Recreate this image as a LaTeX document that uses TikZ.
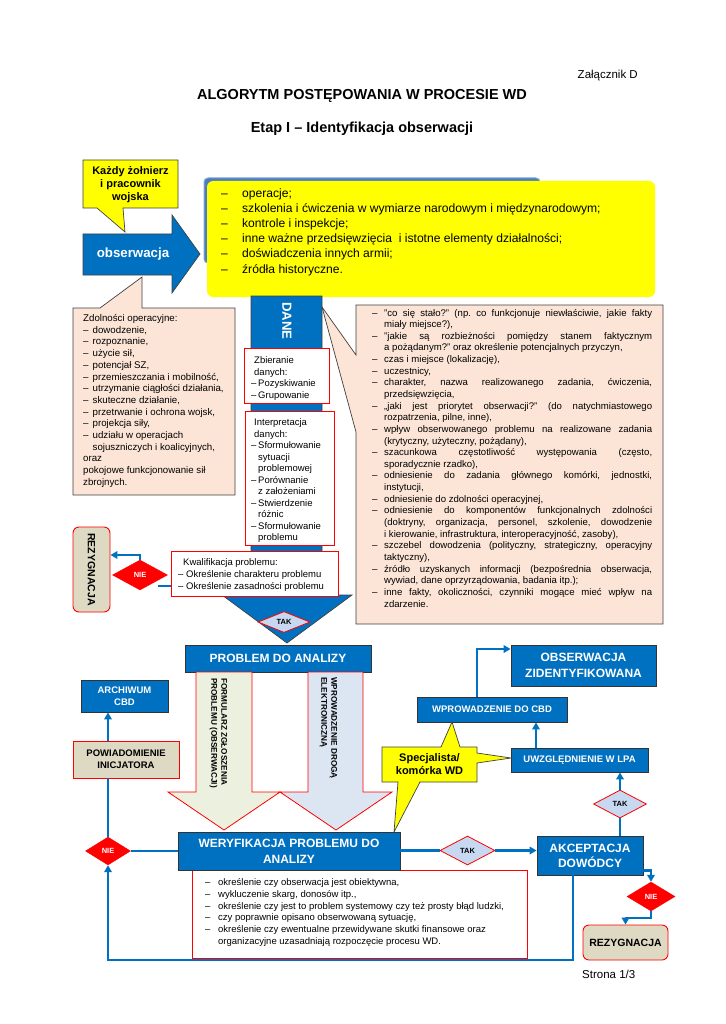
\documentclass[tikz,border=0pt]{standalone}
\usepackage{fontspec}
\setmainfont{Liberation Sans}
\usetikzlibrary{shapes.geometric,arrows.meta,calc}
\definecolor{myblue}{RGB}{0,112,192}
\definecolor{bgblue}{RGB}{74,126,192}
\definecolor{bgrim}{RGB}{130,165,215}
\definecolor{peach}{RGB}{252,229,214}
\definecolor{mytan}{RGB}{221,217,195}
\definecolor{takfill}{RGB}{198,217,241}
\definecolor{grnfill}{RGB}{235,241,222}
\definecolor{lbfill}{RGB}{220,230,242}
\definecolor{myyellow}{RGB}{255,255,0}
\definecolor{myred}{RGB}{255,0,0}
\newcommand{\myfs}[2]{\fontsize{#1}{#2}\selectfont}
\newcommand{\mydash}[1]{\makebox[#1][l]{–}}
\newcommand{\myjl}[2]{\makebox[#1][s]{#2}}
\begin{document}
\frenchspacing
\begin{tikzpicture}[x=1pt,y=-1pt,
  outl/.style={draw=black!75, line width=0.7pt},
  bbox/.style={draw=black!80, line width=0.8pt, fill=myblue, text=white, align=center, inner sep=0pt},
  rbox/.style={draw=myred, line width=0.9pt, fill=white, inner sep=0pt},
  tanr/.style={draw=myred, line width=0.9pt, fill=mytan, inner sep=0pt, align=center},
  nod/.style={diamond, fill=myred, draw=myred, text=white, font=\bfseries\myfs{7.5}{9}, inner sep=0pt},
  takd/.style={diamond, fill=takfill, draw=myred, line width=0.8pt, font=\bfseries\myfs{7.5}{9}, inner sep=0pt},
  conn/.style={draw=myblue, line width=2.4pt, -{Triangle[length=7pt,width=7.5pt]}},
  wire/.style={draw=myblue, line width=2.4pt},
  txt/.style={anchor=base west, inner sep=0pt},
]
\useasboundingbox (0,0) rectangle (725,1024);
\fill[white] (0,0) rectangle (725,1024);

% header
\node[anchor=base east, inner sep=0pt, font=\myfs{11.5}{13}] (zal) at (638,79) {Załącznik D};
\node[inner sep=0pt, font=\bfseries\myfs{14.5}{16}] (title) at (362,96) {ALGORYTM POSTĘPOWANIA W PROCESIE WD};
\node[inner sep=0pt, font=\bfseries\myfs{14.5}{16}] (etap) at (362,128.5) {Etap I – Identyfikacja obserwacji};

% blue background + yellow box
\draw[draw=bgrim, line width=1pt, fill=bgblue, rounded corners=4pt] (204,178) rectangle (540,263);
\fill[myyellow, rounded corners=6pt] (207,181) rectangle (655,297);
\node[txt] (ylist) at (221,198) {\parbox[t]{430pt}{\raggedright\myfs{12.1}{15}%
\mydash{21pt}operacje;\\
\mydash{21pt}szkolenia i ćwiczenia w wymiarze narodowym i międzynarodowym;\\
\mydash{21pt}kontrole i inspekcje;\\
\mydash{21pt}inne ważne przedsięwzięcia \ i istotne elementy działalności;\\
\mydash{21pt}doświadczenia innych armii;\\
\mydash{21pt}źródła historyczne.}};

% callout Kazdy zolnierz
\draw[outl, fill=myyellow] (83,160) -- (178,160) -- (178,208) -- (123,208) -- (125,232) -- (97,208) -- (83,208) -- cycle;
\node[align=center, inner sep=0pt, font=\bfseries\myfs{11}{12.7}] (kazdy) at (130.5,184.5) {Każdy żołnierz\\i pracownik\\wojska};

% obserwacja arrow
\draw[outl, fill=myblue] (83,234) -- (172,234) -- (172,215) -- (200,254) -- (172,293) -- (172,275) -- (83,275) -- cycle;
\node[text=white, inner sep=0pt, font=\bfseries\myfs{13.3}{15}] (obs1) at (133,254) {obserwacja};

% left peach callout
\draw[outl, fill=peach] (73,308) -- (100,308) -- (142,277) -- (142,308) -- (235,308) -- (235,495) -- (73,495) -- cycle;
\node[txt] (zdol) at (83,321.5) {\parbox[t]{150pt}{\raggedright\myfs{9.7}{11.7}%
Zdolności operacyjne:\\
\mydash{9.5pt}dowodzenie,\\
\mydash{9.5pt}rozpoznanie,\\
\mydash{9.5pt}użycie sił,\\
\mydash{9.5pt}potencjał SZ,\\
\mydash{9.5pt}przemieszczania i mobilność,\\
\mydash{9.5pt}utrzymanie ciągłości działania,\\
\mydash{9.5pt}skuteczne działanie,\\
\mydash{9.5pt}przetrwanie i ochrona wojsk,\\
\mydash{9.5pt}projekcja siły,\\
\mydash{9.5pt}udziału w operacjach\\
\hspace*{9.5pt}sojuszniczych i koalicyjnych,\\
oraz\\
pokojowe funkcjonowanie sił\\
zbrojnych.}};

% DANE arrow
\draw[outl, fill=myblue] (251,296) -- (322,296) -- (322,595) -- (352,595) -- (287,643) -- (222,595) -- (251,595) -- cycle;
\node[rotate=-90, text=white, inner sep=0pt, font=\bfseries\myfs{13.2}{15}] (dane) at (287,321) {DANE};

% right peach callout
\draw[outl, fill=peach] (356,305) -- (663,305) -- (663,624) -- (356,624) -- (356,432) -- (322,307) -- (356,355) -- cycle;
\node[txt] (rlist) at (372,316) {\parbox[t]{285pt}{\myfs{9.6}{11.64}%
\mydash{12pt}\myjl{268pt}{"co się stało?" (np. co funkcjonuje niewłaściwie, jakie fakty}\\
\hspace*{12pt}miały miejsce?),\\
\mydash{12pt}\myjl{268pt}{"jakie są rozbieżności pomiędzy stanem faktycznym}\\
\hspace*{12pt}a pożądanym?" oraz określenie potencjalnych przyczyn,\\
\mydash{12pt}czas i miejsce (lokalizację),\\
\mydash{12pt}uczestnicy,\\
\mydash{12pt}\myjl{268pt}{charakter, nazwa realizowanego zadania, ćwiczenia,}\\
\hspace*{12pt}przedsięwzięcia,\\
\mydash{12pt}\myjl{268pt}{„jaki jest priorytet obserwacji?" (do natychmiastowego}\\
\hspace*{12pt}rozpatrzenia, pilne, inne),\\
\mydash{12pt}\myjl{268pt}{wpływ obserwowanego problemu na realizowane zadania}\\
\hspace*{12pt}(krytyczny, użyteczny, pożądany),\\
\mydash{12pt}\myjl{268pt}{szacunkowa częstotliwość występowania (często,}\\
\hspace*{12pt}sporadycznie rzadko),\\
\mydash{12pt}\myjl{268pt}{odniesienie do zadania głównego komórki, jednostki,}\\
\hspace*{12pt}instytucji,\\
\mydash{12pt}odniesienie do zdolności operacyjnej,\\
\mydash{12pt}\myjl{268pt}{odniesienie do komponentów funkcjonalnych zdolności}\\
\hspace*{12pt}\myjl{268pt}{(doktryny, organizacja, personel, szkolenie, dowodzenie}\\
\hspace*{12pt}i kierowanie, infrastruktura, interoperacyjność, zasoby),\\
\mydash{12pt}\myjl{268pt}{szczebel dowodzenia (polityczny, strategiczny, operacyjny}\\
\hspace*{12pt}taktyczny),\\
\mydash{12pt}\myjl{268pt}{źródło uzyskanych informacji (bezpośrednia obserwacja,}\\
\hspace*{12pt}wywiad, dane oprzyrządowania, badania itp.);\\
\mydash{12pt}\myjl{268pt}{inne fakty, okoliczności, czynniki mogące mieć wpływ na}\\
\hspace*{12pt}zdarzenie.}};

% boxes on DANE
\node[rbox, minimum width=85pt, minimum height=55pt] (zbier) at (286.5,375.5) {};
\node[txt] (zbiert) at (251,363.5) {\parbox[t]{80pt}{\raggedright\myfs{9.5}{11.5}%
\hspace*{3pt}Zbieranie\\
\hspace*{3pt}danych:\\
\mydash{7pt}Pozyskiwanie\\
\mydash{7pt}Grupowanie}};
\node[rbox, minimum width=89pt, minimum height=134pt] (interp) at (289.5,478) {};
\node[txt] (interpt) at (251,425.5) {\parbox[t]{82pt}{\raggedright\myfs{9.5}{11.5}%
\hspace*{3pt}Interpretacja\\
\hspace*{3pt}danych:\\
\mydash{7pt}Sformułowanie\\
\hspace*{7pt}sytuacji\\
\hspace*{7pt}problemowej\\
\mydash{7pt}Porównanie\\
\hspace*{7pt}z założeniami\\
\mydash{7pt}Stwierdzenie\\
\hspace*{7pt}różnic\\
\mydash{7pt}Sformułowanie\\
\hspace*{7pt}problemu}};
\node[rbox, minimum width=167pt, minimum height=45pt] (kwal) at (254.5,573.5) {};
\node[txt] (kwalt) at (178,565.5) {\parbox[t]{160pt}{\raggedright\myfs{9.5}{12}%
\hspace*{5pt}Kwalifikacja problemu:\\
\mydash{8pt}Określenie charakteru problemu\\
\mydash{8pt}Określenie zasadności problemu}};

\node[nod, minimum width=55pt, minimum height=30pt] (nie1) at (140,575) {NIE};
\node[tanr, rounded corners=6pt, minimum width=37pt, minimum height=85pt] (rez1) at (91.5,569.5) {};
\node[rotate=-90, inner sep=0pt, font=\bfseries\myfs{10.5}{12}] (rez1t) at (91.5,569.5) {REZYGNACJA};
\node[takd, minimum width=52pt, minimum height=21pt] (tak1) at (284,622) {TAK};

% bottom part
\node[bbox, minimum width=186pt, minimum height=27pt, font=\bfseries\myfs{12}{14}] (problem) at (278,658.5) {PROBLEM DO ANALIZY};
\draw[draw=myred, line width=0.8pt, fill=grnfill] (196,672) -- (252,672) -- (252,792) -- (280,792) -- (224,830) -- (168,792) -- (196,792) -- cycle;
\draw[draw=myred, line width=0.8pt, fill=lbfill] (308,672) -- (363,672) -- (363,792) -- (392,792) -- (336,830) -- (280,792) -- (308,792) -- cycle;
\node[rotate=-90, anchor=west, align=left, inner sep=0pt, font=\bfseries\myfs{8.2}{10}] (form) at (218.5,678) {FORMULARZ ZGŁOSZENIA\\PROBLEMU (OBSERWACJI)};
\node[rotate=-90, anchor=west, align=left, inner sep=0pt, font=\bfseries\myfs{8.2}{10}] (elek) at (328.5,677) {WPROWADZENIE DROGĄ\\ELEKTRONICZNĄ};

\node[bbox, minimum width=87pt, minimum height=32pt, font=\bfseries\myfs{9.5}{11.5}] (arch) at (124.5,696) {ARCHIWUM\\CBD};
\node[tanr, minimum width=106pt, minimum height=37pt, font=\bfseries\myfs{9.5}{12}] (powiad) at (126,759.5) {POWIADOMIENIE\\INICJATORA};

\node[bbox, minimum width=145pt, minimum height=41pt, font=\bfseries\myfs{12}{16}] (obsid) at (583.5,665.5) {OBSERWACJA\\ZIDENTYFIKOWANA};
\node[bbox, minimum width=150pt, minimum height=25pt, font=\bfseries\myfs{9.5}{11}] (wprow) at (492,709.5) {WPROWADZENIE DO CBD};
\node[bbox, minimum width=137pt, minimum height=24pt, font=\bfseries\myfs{9.5}{11}] (uwz) at (579.5,760) {UWZGLĘDNIENIE W LPA};
\node[takd, minimum width=53pt, minimum height=28pt] (tak2) at (620,804) {TAK};

\node[rbox, minimum width=335pt, minimum height=88pt] (wlist) at (359.5,914) {};
\node[bbox, minimum width=222pt, minimum height=38pt, font=\bfseries\myfs{12}{16}] (weryf) at (289,851) {WERYFIKACJA PROBLEMU DO\\ANALIZY};
\node[txt] (wlistt) at (205,885.5) {\parbox[t]{320pt}{\raggedright\myfs{9.5}{11.8}%
\mydash{13pt}określenie czy obserwacja jest obiektywna,\\
\mydash{13pt}wykluczenie skarg, donosów itp.,\\
\mydash{13pt}określenie czy jest to problem systemowy czy też prosty błąd ludzki,\\
\mydash{13pt}czy poprawnie opisano obserwowaną sytuację,\\
\mydash{13pt}określenie czy ewentualne przewidywane skutki finansowe oraz\\
\hspace*{13pt}organizacyjne uzasadniają rozpoczęcie procesu WD.}};

\node[nod, minimum width=45pt, minimum height=28pt] (nie2) at (108,851) {NIE};
\node[takd, minimum width=55pt, minimum height=29pt] (tak3) at (467.5,850.5) {TAK};
\node[bbox, minimum width=106pt, minimum height=39pt, font=\bfseries\myfs{12}{15}] (akc) at (590,855.5) {AKCEPTACJA\\DOWÓDCY};
\node[nod, minimum width=48pt, minimum height=29pt] (nie3) at (651,896.5) {NIE};
\node[tanr, rounded corners=6pt, minimum width=85pt, minimum height=35pt, font=\bfseries\myfs{10.5}{12}] (rez2) at (625.5,942.5) {REZYGNACJA};
\node[txt, font=\myfs{11.5}{13}] (strona) at (582,978) {Strona 1/3};

% Specjalista callout
\draw[outl, fill=myyellow] (382,747) -- (441,747) -- (452,722) -- (460,747) -- (477,747) -- (477,753) -- (511,758) -- (477,763) -- (477,782) -- (420,782) -- (394,832) -- (398,782) -- (382,782) -- cycle;
\node[align=center, inner sep=0pt, font=\bfseries\myfs{11}{13}] (spec) at (429.5,764.5) {Specjalista/\\komórka WD};

% connectors
\draw[wire] ([yshift=-12.5pt]kwal.west) -- ++(-13,0);
\draw[conn] (nie1.north) |- ([yshift=14.5pt]rez1.east);
\draw[wire] (nie2.east) -- (nie2.east -| weryf.west);
\draw[wire] (tak3.west -| weryf.east) -- (tak3.west);
\draw[conn] (tak3.east) -- (tak3.east -| akc.west);
\draw[wire] (nie2.north) -- (nie2.north |- powiad.south);
\draw[conn] (nie2.north |- powiad.north) -- (nie2.north |- arch.south);
\coordinate (loopy) at (0,960);
\draw[conn] ([xshift=-17pt]akc.south) |- (loopy -| nie2.south) -- (nie2.south);
\draw[conn] ([yshift=5pt]akc.south east) -| (nie3.north);
\draw[conn] (nie3.south) -- ++(0,7) -| (rez2.north);
\draw[wire] (tak2.south) -- (tak2.south |- akc.north);
\draw[conn] (tak2.north) -- (tak2.north |- uwz.south);
\draw[conn] ([xshift=-43.5pt]uwz.north) -- ([xshift=-43.5pt]uwz.north |- wprow.south);
\draw[conn] ([xshift=-15pt]wprow.north) |- ([yshift=16.5pt]obsid.west);
\end{tikzpicture}
\end{document}
